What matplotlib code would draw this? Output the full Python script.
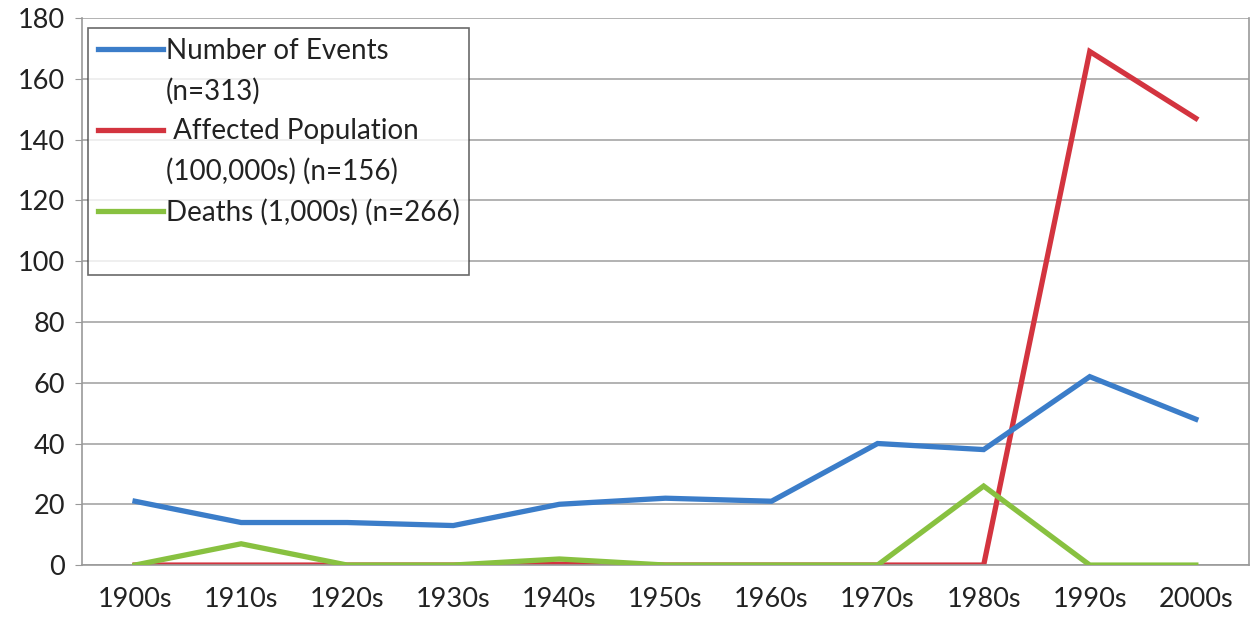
import matplotlib
matplotlib.use('Agg')
import matplotlib.pyplot as plt
from matplotlib.lines import Line2D

decades = ['1900s', '1910s', '1920s', '1930s', '1940s', '1950s',
           '1960s', '1970s', '1980s', '1990s', '2000s']
events = [21, 14, 14, 13, 20, 22, 21, 40, 38, 62, 48]
affected = [0, 0, 0, 0, 0.3, 0, 0, 0, 0, 169, 147]
deaths = [0, 7, 0, 0, 2, 0, 0, 0, 26, 0, 0]

# legend rows: excel puts the key next to the first line of each label
legend_rows = [('Number of Events', 0), ('(n=313)', None),
               (' Affected Population', 1), ('(100,000s) (n=156)', None),
               ('Deaths (1,000s) (n=266)', 2), (' ', None)]

colors = ['#3b7dc9', '#d3343f', '#88c140']

plt.rcParams['font.family'] = ['Lato', 'DejaVu Sans']

fig = plt.figure(figsize=(12.52, 6.23), dpi=100)
ax = fig.add_axes([0.0655, 0.093, 0.932, 0.878])

x = range(len(decades))
ax.plot(x, events, color=colors[0], lw=3.8, solid_joinstyle='miter', zorder=3)
ax.plot(x, affected, color=colors[1], lw=3.8, solid_joinstyle='miter', zorder=2)
ax.plot(x, deaths, color=colors[2], lw=3.8, solid_joinstyle='miter', zorder=4)

ax.set_xlim(-0.5, len(decades) - 0.5)
ax.set_ylim(0, 180)
ax.set_yticks(range(0, 181, 20))
ax.set_xticks(list(x))
ax.set_xticklabels(decades)
ax.tick_params(axis='both', labelsize=19.5, colors='#222222', length=0, pad=16)
ax.tick_params(axis='y', length=5, color='#999999', direction='out', pad=7)
ax.grid(axis='y', color='#a6a6a6', lw=1.2)
ax.set_axisbelow(True)
for s in ['left', 'right', 'bottom']:
    ax.spines[s].set_color('#999999')
    ax.spines[s].set_linewidth(1.2)
ax.spines['top'].set_visible(False)

handles = []
labs = []
for text, idx in legend_rows:
    if idx is None:
        handles.append(Line2D([], [], color='none'))
    else:
        handles.append(Line2D([], [], color=colors[idx], lw=3.8))
    labs.append(text)
leg = ax.legend(handles, labs, loc='upper left', bbox_to_anchor=(0.005, 0.982),
                fontsize=20, frameon=True, fancybox=False, handlelength=2.35,
                handletextpad=0.1, borderpad=0.35, labelspacing=0.5,
                borderaxespad=0)
leg.get_frame().set_edgecolor('#444444')
leg.get_frame().set_linewidth(1.2)
for t in leg.get_texts():
    t.set_color('#222222')

fig.savefig('out.png', dpi=100)
